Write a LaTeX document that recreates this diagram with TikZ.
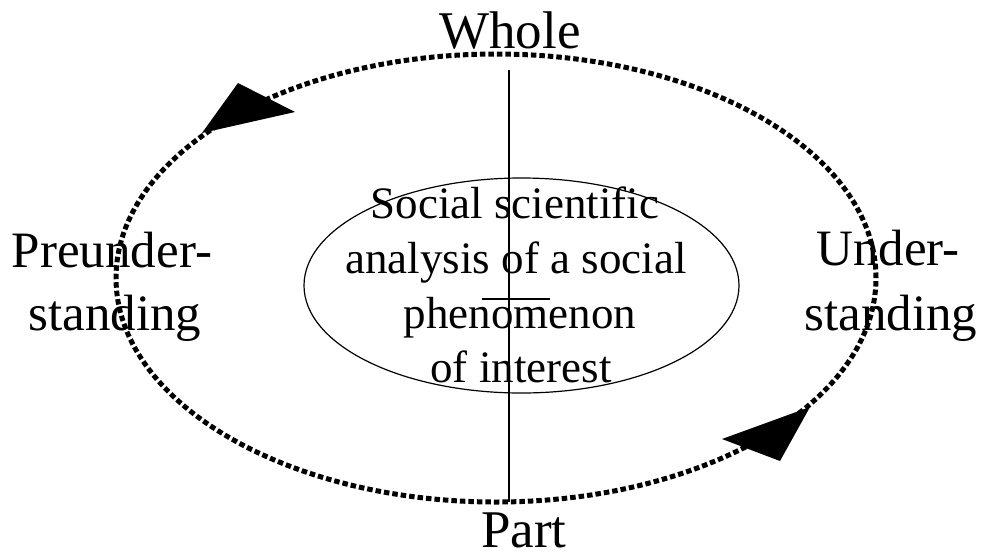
\documentclass[tikz,border=0pt]{standalone}
\usepackage{fontspec}
\setmainfont{Liberation Serif}
\begin{document}
\begin{tikzpicture}[x=1pt,y=-1pt,
  dotring/.style={line width=5pt, dash pattern=on 5.5pt off 3pt},
  thinline/.style={line width=1.2pt},
  headtri/.style={fill=black},
  bigtxt/.style={inner sep=0pt, anchor=base, font=\fontsize{53}{64}\selectfont},
  sidetxt/.style={inner sep=0pt, anchor=base, font=\fontsize{51}{62}\selectfont},
  innertxt/.style={inner sep=0pt, anchor=base, font=\fontsize{45}{55}\selectfont}]
\useasboundingbox (0,0) rectangle (987,555);
% outer dotted ellipse
\draw[dotring] (496,278) ellipse [x radius=380pt, y radius=224pt];
% arrowheads
\fill[headtri] (202,133) -- (238,83) -- (295,112) -- cycle;
\fill[headtri] (810,407) -- (722,439) -- (780,461) -- cycle;
% vertical axis
\coordinate (vtop) at (509,70);
\coordinate (vbot) at (509,502);
\draw[thinline] (vtop) -- (vbot);
% inner ellipse
\draw[thinline] (521.5,285.5) ellipse [x radius=217.5pt, y radius=107.5pt];
% small bar
\coordinate (barl) at (482,299);
\coordinate (barr) at (550,299);
\draw[thinline] (barl) -- (barr);
% labels
\node[bigtxt] (whole) at (510,48) {Whole};
\node[bigtxt, text depth=0pt] (part) at (524,547) {Part};
\node[sidetxt] (pre1) at (112,267) {Preunder-};
\node[sidetxt] (pre2) at (115,330) {standing};
\node[sidetxt] (und1) at (888,265) {Under-};
\node[sidetxt] (und2) at (891,330) {standing};
\node[innertxt] (in1) at (515,218) {Social scientific};
\node[innertxt] (in2) at (516,273) {analysis of a social};
\node[innertxt] (in3) at (520,328) {phenomenon};
\node[innertxt] (in4) at (521,382) {of interest};
\end{tikzpicture}
\end{document}
